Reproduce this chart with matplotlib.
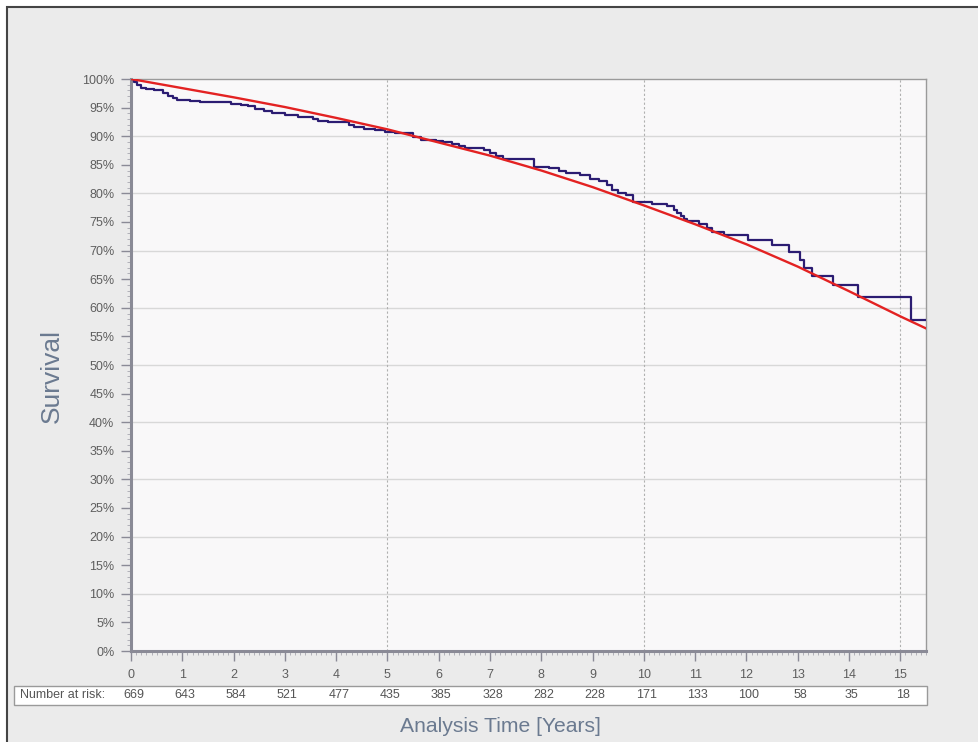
import matplotlib.pyplot as plt
from matplotlib.patches import Rectangle
from matplotlib.ticker import MultipleLocator, FuncFormatter
from matplotlib.transforms import blended_transform_factory

plt.rcParams['font.family'] = ['Liberation Sans', 'DejaVu Sans']

# Kaplan-Meier steps (time in years, survival in %)
km_time = [0, 0.05, 0.12, 0.2, 0.3, 0.45, 0.62, 0.72, 0.82, 0.9, 1.15, 1.35,
           1.65, 1.95, 2.15, 2.28, 2.42, 2.6, 2.75, 3.0, 3.25, 3.55, 3.65, 3.85,
           4.25, 4.35, 4.55, 4.75, 4.95, 5.15, 5.5, 5.65, 5.95, 6.08, 6.25, 6.4,
           6.52, 6.88, 7.0, 7.12, 7.25, 7.85, 8.15, 8.35, 8.48, 8.75, 8.95, 9.12,
           9.28, 9.38, 9.5, 9.65, 9.78, 10.15, 10.45, 10.58, 10.65, 10.72, 10.78,
           10.85, 11.07, 11.23, 11.33, 11.56, 12.02, 12.5, 12.83, 13.05, 13.12,
           13.28, 13.68, 14.17, 15.2, 15.5]
km_surv = [100, 99.4, 98.9, 98.4, 98.2, 98.0, 97.6, 97.1, 96.7, 96.4, 96.2, 96.0,
           95.9, 95.7, 95.5, 95.2, 94.7, 94.4, 94.1, 93.7, 93.3, 93.0, 92.6, 92.4,
           92.0, 91.6, 91.3, 91.0, 90.7, 90.5, 89.9, 89.3, 89.1, 88.9, 88.6, 88.2,
           87.9, 87.6, 87.0, 86.6, 86.0, 84.7, 84.4, 84.0, 83.5, 83.2, 82.6, 82.2,
           81.5, 80.6, 80.1, 79.7, 78.5, 78.1, 77.8, 77.1, 76.5, 76.0, 75.5,
           75.1, 74.6, 73.9, 73.3, 72.7, 71.9, 71.0, 69.8, 68.4, 67.0,
           65.6, 64.0, 61.9, 57.9, 57.9]

# fitted parametric curve
fit_time = [0, 1, 2, 3, 4, 5, 6, 7, 8, 9, 10, 11, 12, 13, 14, 15, 15.5]
fit_surv = [100, 98.4, 96.8, 95.1, 93.2, 91.2, 88.9, 86.6, 84.0, 81.1, 77.9,
            74.6, 71.1, 67.2, 62.9, 58.5, 56.4]

risk_times = list(range(16))
risk_counts = [669, 643, 584, 521, 477, 435, 385, 328, 282, 228, 171, 133, 100,
               58, 35, 18]

W, H = 979, 742
fig = plt.figure(figsize=(W / 100, H / 100), dpi=100, facecolor='white')

# outer panel with dark border
fig.patches.append(Rectangle((7 / W, -0.1), 1.2, (H - 7) / H + 0.1,
                             transform=fig.transFigure, facecolor='#EBEBEB',
                             edgecolor='#444444', lw=1.5, zorder=-10))
# number at risk box
fig.patches.append(Rectangle((14 / W, (H - 705) / H), (927 - 14) / W, 19 / H,
                             transform=fig.transFigure, facecolor='white',
                             edgecolor='#9A9A9A', lw=1, zorder=-5))

ax = fig.add_axes([131 / W, 91 / H, (926 - 131) / W, (651 - 79) / H])
ax.set_facecolor('#F9F8F9')

ax.step(km_time, km_surv, where='post', color='#2B1C72', lw=1.6, zorder=3)
ax.plot(fit_time, fit_surv, color='#E32222', lw=1.7, zorder=4)

ax.set_xlim(0, 15.5)
ax.set_ylim(0, 100)

ax.yaxis.set_major_locator(MultipleLocator(5))
ax.yaxis.set_minor_locator(MultipleLocator(1))
ax.xaxis.set_major_locator(MultipleLocator(1))
ax.xaxis.set_minor_locator(MultipleLocator(0.1))
ax.yaxis.set_major_formatter(FuncFormatter(lambda v, p: f'{int(v)}%'))

ax.tick_params(axis='both', which='major', length=7, width=1, color='#8A8A96',
               labelsize=9, labelcolor='#5E5E5E')
ax.tick_params(axis='both', which='minor', length=3, width=0.6, color='#A8A8B0')
ax.tick_params(axis='y', which='major', pad=5)
ax.tick_params(axis='x', which='major', pad=6)

for v in range(10, 100, 10):
    ax.axhline(v, color='#D8D8D8', lw=1, zorder=1)
for v in (5, 10, 15):
    ax.axvline(v, color='#B0B0B0', lw=0.8, ls=(0, (2, 2)), zorder=1)

for s in ('left', 'bottom'):
    ax.spines[s].set_color('#8A8A96')
    ax.spines[s].set_linewidth(2.2)
for s in ('top', 'right'):
    ax.spines[s].set_color('#9A9A9A')
    ax.spines[s].set_linewidth(1)

tr = blended_transform_factory(ax.transData, fig.transFigure)
row_y = (H - 695.5) / H
fig.text(20 / W, row_y, 'Number at risk:', fontsize=9, color='#555555',
         va='center', ha='left')
for t, n in zip(risk_times, risk_counts):
    ax.text(t + 0.05, row_y, str(n), transform=tr, fontsize=9, color='#555555',
            va='center', ha='center', clip_on=False)

fig.text(52 / W, (H - 376) / H, 'Survival', rotation=90, fontsize=19,
         color='#6B7A90', va='center', ha='center')
fig.text(500 / W, (H - 727) / H, 'Analysis Time [Years]', fontsize=15.2,
         color='#6B7A90', va='center', ha='center')

fig.savefig('out.png', dpi=100, facecolor=fig.get_facecolor())
